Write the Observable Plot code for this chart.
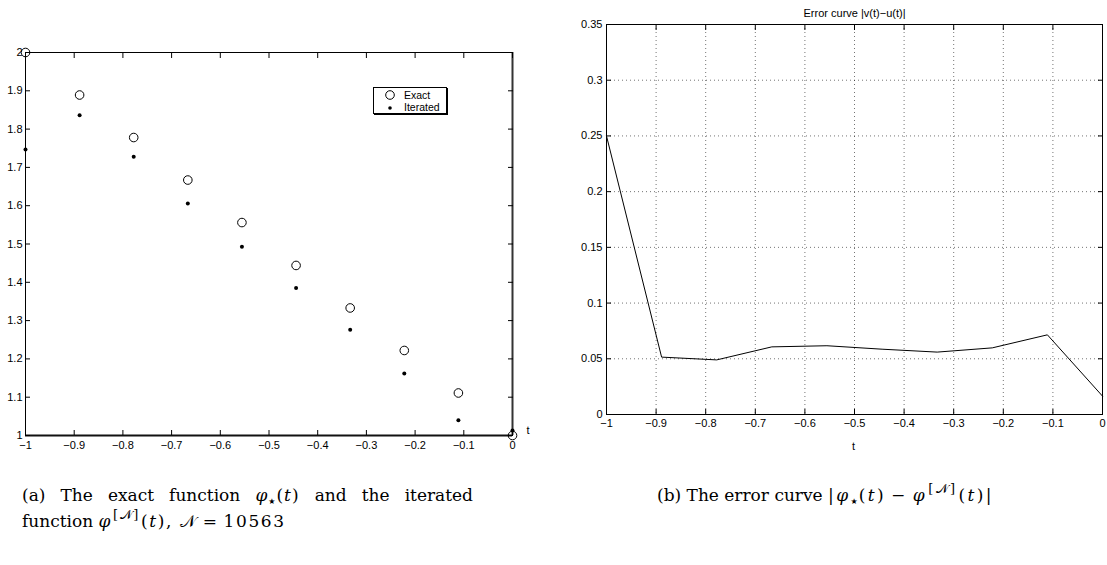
<!DOCTYPE html>
<html><head><meta charset="utf-8">
<script src="https://cdn.jsdelivr.net/npm/d3@7"></script>
<script src="https://cdn.jsdelivr.net/npm/@observablehq/plot@0.6"></script>
<style>
body{margin:0;background:#fff;}
#wrap{position:relative;width:1107px;height:565px;overflow:hidden;background:#fff;font-family:"Liberation Sans",Arial,sans-serif;}
.abs{position:absolute;}
.cap{font-family:"DejaVu Serif","Liberation Serif",serif;font-size:17px;color:#000;white-space:nowrap;}
.cap i{font-style:italic;}
.m{letter-spacing:1.6px;}
.m2{letter-spacing:2.4px;}
.ib{display:inline-block;letter-spacing:1px;}
.sub{font-family:"DejaVu Sans",sans-serif;font-size:8px;position:relative;top:3px;margin-left:0;margin-right:1px;letter-spacing:0;}
.sup{font-size:13px;position:relative;top:-8px;margin-left:1px;margin-right:1px;}
.op{margin:0 0.3em;}
#legend{left:373px;top:87px;width:72px;height:25px;border:1px solid #000;box-shadow:1px 1px 0 #000;background:#fff;font-size:10.5px;color:#000;}
#legend div{position:absolute;left:30px;line-height:12px;}
#legend svg{position:absolute;left:0;top:0;}
</style></head><body>
<div id="wrap">
  <div id="plotA" class="abs" style="left:0;top:0;"></div>
  <div id="plotB" class="abs" style="left:560px;top:0;"></div>
  <div id="legend" class="abs">
    <svg width="30" height="26"><circle cx="16" cy="7" r="4.3" fill="none" stroke="#000" stroke-width="1"/><circle cx="16" cy="20" r="1.8" fill="#000"/></svg>
    <div style="top:1px;">Exact</div>
    <div style="top:13px;">Iterated</div>
  </div>
  <div class="abs cap" style="left:22px;top:485px;width:451px;text-align:justify;text-align-last:justify;white-space:normal;">(a) The exact function <span class="ib"><i>φ</i><span class="sub">★</span>(<i>t</i>)</span> and the iterated</div>
  <div class="abs cap" style="left:22px;top:511px;">function <span class="m"><i>φ</i><span class="sup">[𝒩]</span>(<i>t</i>), 𝒩<span class="op">=</span>10563</span></div>
  <div class="abs cap" style="left:657px;top:485px;">(b) The error curve <span class="m2">|<i>φ</i><span class="sub">★</span>(<i>t</i>)<span class="op">−</span><i>φ</i><span class="sup">[𝒩]</span>(<i>t</i>)|</span></div>
</div>
<script>
// data
const tValues = [-1, -0.8889, -0.7778, -0.6667, -0.5556, -0.4444, -0.3333, -0.2222, -0.1111, 0];
const exactValues = [2, 1.889, 1.778, 1.667, 1.556, 1.444, 1.333, 1.222, 1.111, 1.0];
const iteratedValues = [1.747, 1.836, 1.728, 1.606, 1.493, 1.385, 1.276, 1.162, 1.040, 1.013];
const errorValues = [0.25, 0.0515, 0.049, 0.0607, 0.0617, 0.0586, 0.056, 0.0598, 0.0715, 0.0165];
const xTicks = [-1, -0.9, -0.8, -0.7, -0.6, -0.5, -0.4, -0.3, -0.2, -0.1, 0];
const yTicksA = [1, 1.1, 1.2, 1.3, 1.4, 1.5, 1.6, 1.7, 1.8, 1.9, 2];
const yTicksB = [0, 0.05, 0.1, 0.15, 0.2, 0.25, 0.3, 0.35];
const titleB = "Error curve |v(t)\u2212u(t)|";
const xLabel = "t";

const exactData = tValues.map((t, i) => ({t, v: exactValues[i]}));
const iterData = tValues.map((t, i) => ({t, v: iteratedValues[i]}));
const errData = tValues.map((t, i) => ({t, v: errorValues[i]}));

const fmt = d => (d < 0 ? "\u2212" : "") + String(Math.abs(d));
const none = () => "";
const style = {fontFamily: "Liberation Sans, Arial, sans-serif", fontSize: "11px", color: "#000", background: "transparent", overflow: "visible"};

function boxAxes(yTicks, xPad, yPad) {
  return [
    Plot.axisX(xTicks, {anchor: "bottom", tickSize: -5, tickFormat: none, label: null}),
    Plot.axisX(xTicks, {anchor: "top", tickSize: -5, tickFormat: none, label: null}),
    Plot.axisY(yTicks, {anchor: "left", tickSize: -5, tickFormat: none, label: null}),
    Plot.axisY(yTicks, {anchor: "right", tickSize: -5, tickFormat: none, label: null}),
    Plot.axisX(xTicks, {anchor: "bottom", tickSize: 0, tickPadding: xPad, tickFormat: fmt, label: null}),
    Plot.axisY(yTicks, {anchor: "left", tickSize: 0, tickPadding: yPad, tickFormat: fmt, label: null})
  ];
}

const A = Plot.plot({
  width: 560, height: 460,
  marginLeft: 25, marginRight: 48, marginTop: 52, marginBottom: 25,
  x: {domain: [-1, 0]}, y: {domain: [1, 2]},
  style,
  marks: [
    Plot.frame({stroke: "#000", strokeWidth: 1}),
    Plot.ruleY([1], {stroke: "#111", strokeWidth: 2}),
    Plot.ruleX([0], {stroke: "#333", strokeWidth: 2}),
    ...boxAxes(yTicksA, 6, 3),
    Plot.text([xLabel], {frameAnchor: "bottom-right", dx: 17, dy: -2, fill: "#000", fontSize: 11}),
    Plot.dot(exactData, {x: "t", y: "v", r: 4.3, stroke: "#000", fill: "none", strokeWidth: 1}),
    Plot.dot(iterData, {x: "t", y: "v", r: 2, fill: "#000", stroke: "none"})
  ]
});
document.getElementById("plotA").appendChild(A);

const B = Plot.plot({
  width: 547, height: 460,
  marginLeft: 46, marginRight: 5, marginTop: 24, marginBottom: 46,
  x: {domain: [-1, 0]}, y: {domain: [0, 0.35]},
  style,
  marks: [
    Plot.gridX(xTicks, {stroke: "#000", strokeOpacity: 0.55, strokeDasharray: "1,3"}),
    Plot.gridY(yTicksB, {stroke: "#000", strokeOpacity: 0.55, strokeDasharray: "1,3"}),
    Plot.frame({stroke: "#000", strokeWidth: 1}),
    ...boxAxes(yTicksB, 5, 4),
    Plot.text([titleB], {frameAnchor: "top", dy: -15, fill: "#000", fontSize: 11}),
    Plot.text([xLabel], {frameAnchor: "bottom", dy: 35, dx: -1, fill: "#000", fontSize: 11}),
    Plot.line(errData, {x: "t", y: "v", stroke: "#000", strokeWidth: 1})
  ]
});
document.getElementById("plotB").appendChild(B);
</script>
</body></html>
